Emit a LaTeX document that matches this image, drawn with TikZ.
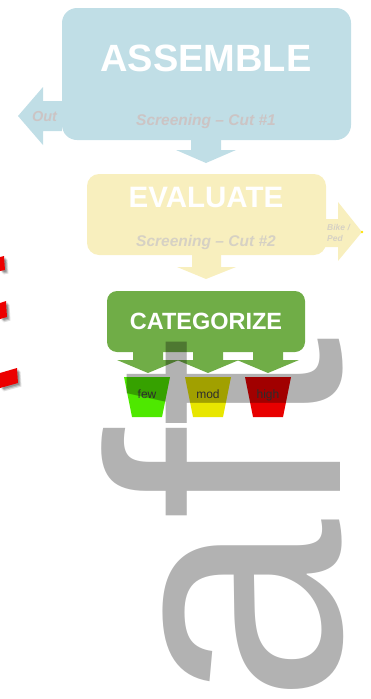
\documentclass[tikz,border=0pt]{standalone}
\usepackage{fontspec}
\setmainfont{Liberation Sans}
\definecolor{asmblue}{RGB}{192,222,230}
\definecolor{evyellow}{RGB}{248,239,190}
\definecolor{catgreen}{RGB}{112,173,71}
\definecolor{fewgreen}{RGB}{78,232,0}
\definecolor{modyellow}{RGB}{232,230,0}
\definecolor{highred}{RGB}{232,0,0}
\definecolor{fadeA}{RGB}{204,196,196}
\definecolor{fadeB}{RGB}{214,209,196}
\definecolor{stampred}{RGB}{236,0,0}
\tikzset{
  box/.style={rounded corners=#1, inner sep=0pt},
  title/.style={anchor=base, inner sep=0pt, text=white, font=\bfseries},
  faded/.style={anchor=base, inner sep=0pt, font=\bfseries\itshape},
  cuplabel/.style={anchor=base, inner sep=0pt, text=black!75, font=\fontsize{12}{12}\selectfont},
}
\begin{document}
\begin{tikzpicture}[x=1pt,y=-1pt]
\useasboundingbox (0,0) rectangle (371,699);

% --- ASSEMBLE ---
\node[box=15pt, fill=asmblue, minimum width=289pt, minimum height=132pt] (asm) at (206.5,74) {};
\fill[asmblue] (asm.west |- 0,101) -- (43,101) -- (43,87) -- (18,116) -- (43,145) -- (43,131) -- (asm.west |- 0,131) -- cycle;
\node[title, font=\bfseries\fontsize{38}{38}\selectfont] (asmt) at (206,71) {ASSEMBLE};
\node[faded, text=fadeA, font=\bfseries\itshape\fontsize{15.5}{15.5}\selectfont] (cut1) at (206,125) {Screening – Cut \#1};
\node[faded, text=fadeA, font=\bfseries\itshape\fontsize{14.5}{14.5}\selectfont] (out) at (44.5,121.5) {Out};

% --- EVALUATE ---
\node[box=12pt, fill=evyellow, minimum width=239pt, minimum height=81pt] (ev) at (206.5,214.5) {};
% arrow ASSEMBLE -> EVALUATE
\fill[asmblue] (191,138) -- (221,138) -- (221,150) -- (236,150) -- (206,163) -- (176,150) -- (191,150) -- cycle;
% right arrow Bike/Ped
\fill[evyellow] (320,219) -- (338,219) -- (338,202) -- (362,232) -- (338,261) -- (338,247) -- (320,247) -- cycle;
\fill[yellow!85!orange] (362,232) circle (1.4);
\node[title, font=\bfseries\fontsize{29.5}{29.5}\selectfont] (evt) at (206,207) {EVALUATE};
\node[faded, text=fadeB, font=\bfseries\itshape\fontsize{15.5}{15.5}\selectfont] (cut2) at (206,246) {Screening – Cut \#2};
\node[faded, anchor=base west, text=fadeB, font=\bfseries\itshape\fontsize{8.5}{8.5}\selectfont] (bike) at (327,230) {Bike /};
\node[faded, anchor=base west, text=fadeB, font=\bfseries\itshape\fontsize{8.5}{8.5}\selectfont] (ped) at (327,241) {Ped};

% arrow EVALUATE -> CATEGORIZE
\fill[evyellow] (192,253) -- (221,253) -- (221,267) -- (236,267) -- (206,279) -- (177,267) -- (192,267) -- cycle;

% --- CATEGORIZE ---
\node[box=10pt, fill=catgreen, minimum width=198pt, minimum height=61pt] (cat) at (206,321.5) {};
\foreach \c in {148,208,268}{
  \fill[catgreen] (\c-15,348) -- (\c+15,348) -- (\c+15,360) -- (\c+31,360) -- (\c,373) -- (\c-31,360) -- (\c-15,360) -- cycle;
}
\node[title, font=\bfseries\fontsize{23.5}{23.5}\selectfont] (catt) at (206,329) {CATEGORIZE};

% cups
\fill[fewgreen] (124,377) -- (170,377) -- (162,417) -- (132,417) -- cycle;
\fill[modyellow] (185,377) -- (231,377) -- (223,417) -- (193,417) -- cycle;
\fill[highred] (245,377) -- (291,377) -- (283,417) -- (253,417) -- cycle;
\node[cuplabel] (few) at (147,398) {few};
\node[cuplabel] (mod) at (208,398) {mod};
\node[cuplabel] (high) at (268,398) {high};

% red stamp fragments with shadows
\foreach \dx/\dy/\op in {3.5/3.5/0.12,2.5/2.5/0.18,1.5/1.5/0.2}{
  \fill[black, opacity=\op] (0+\dx,257+\dy) -- (4+\dx,256+\dy) -- (5+\dx,270+\dy) -- (0+\dx,271+\dy) -- cycle;
  \fill[black, opacity=\op] (0+\dx,303+\dy) -- (6+\dx,301+\dy) -- (7+\dx,317+\dy) -- (0+\dx,319+\dy) -- cycle;
  \fill[black, opacity=\op] (0+\dx,373+\dy) -- (17+\dx,368+\dy) -- (18+\dx,383+\dy) -- (0+\dx,388+\dy) -- cycle;
}
\fill[stampred] (0,257) -- (4,256) -- (5,270) -- (0,271) -- cycle;
\fill[stampred] (0,303) -- (6,301) -- (7,317) -- (0,319) -- cycle;
\fill[stampred] (0,373) -- (17,368) -- (18,383) -- (0,388) -- cycle;

% watermark
\node[rotate=90, anchor=base west, inner sep=0pt, text=black, text opacity=0.3, font=\fontsize{330}{330}\selectfont] (wm) at (340,704) {aft};
\end{tikzpicture}
\end{document}
